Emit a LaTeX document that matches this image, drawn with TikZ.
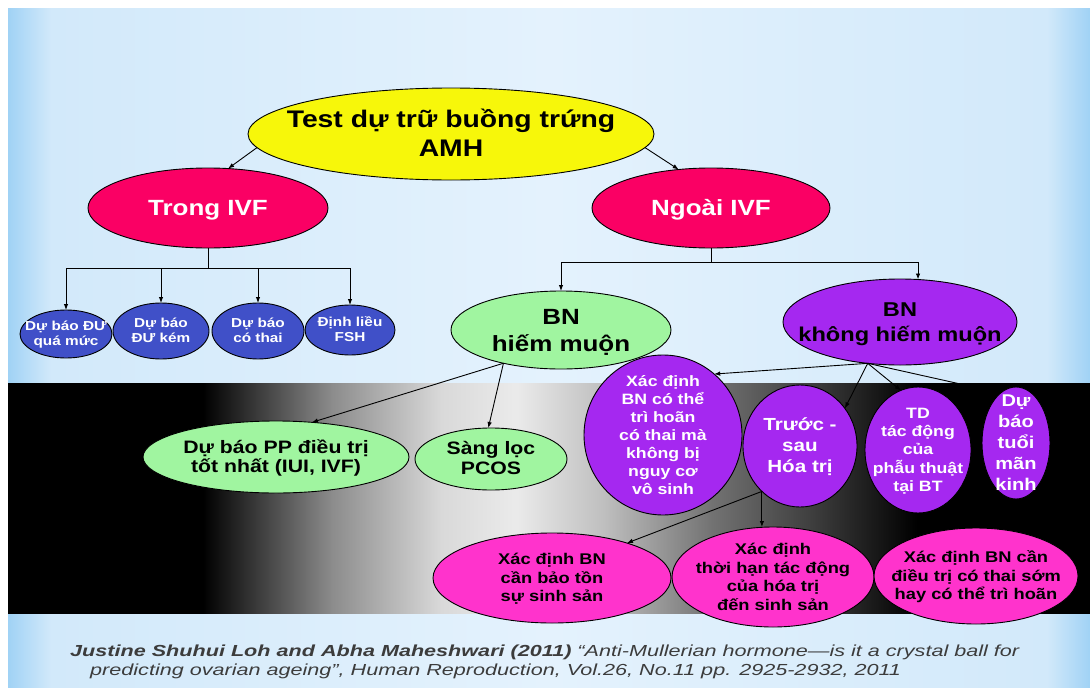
\documentclass[tikz,border=0pt]{standalone}
\usepackage{fontspec}
\setmainfont{Liberation Sans}[FakeStretch=1.18]
\newfontfamily\citefont{Liberation Sans}[FakeStretch=1.35]
\usetikzlibrary{shapes.geometric,arrows.meta,calc}
\definecolor{cyel}{RGB}{247,247,10}
\definecolor{ccrim}{RGB}{250,0,100}
\definecolor{cblue}{RGB}{64,80,200}
\definecolor{cgreen}{RGB}{160,245,160}
\definecolor{cpurp}{RGB}{165,40,240}
\definecolor{cpink}{RGB}{255,51,204}
\definecolor{bgA}{RGB}{160,210,245}
\definecolor{bgB}{RGB}{210,233,250}
\definecolor{bgC}{RGB}{228,242,253}
\definecolor{ccite}{RGB}{60,60,60}
\definecolor{gA}{gray}{0.55}
\definecolor{gB}{gray}{0.85}
\definecolor{gC}{gray}{0.92}
\definecolor{gD}{gray}{0.75}
\definecolor{gE}{gray}{0.45}
\definecolor{gF}{gray}{0.25}
\pgfdeclarehorizontalshading{bgshade}{100bp}{color(0bp)=(bgA); color(25bp)=(bgA); color(27bp)=(bgB); color(50bp)=(bgC); color(73bp)=(bgB); color(75bp)=(bgA); color(100bp)=(bgA)}
\pgfdeclarehorizontalshading{bandshade}{100bp}{color(0bp)=(black); color(34bp)=(black); color(40bp)=(gA); color(45bp)=(gB); color(48.5bp)=(gC); color(52.5bp)=(gD); color(57.5bp)=(gE); color(62bp)=(gF); color(67bp)=(black); color(100bp)=(black)}
% text box of zero size, centred on the node centre
\newcommand{\ztxt}[1]{\makebox[0pt]{\raisebox{-0.34em}[0pt][0pt]{\begin{tabular}{@{}c@{}}#1\end{tabular}}}}
\tikzset{
  ell/.style={ellipse, draw=black, line width=0.9pt, inner sep=0pt, outer sep=0pt},
  conn/.style={draw=black, line width=0.9pt},
  arr/.style={conn, -{Latex[length=6pt,width=4.5pt]}},
  whitetxt/.style={text=white},
}
\begin{document}
\begin{tikzpicture}[x=1pt,y=-1pt]
\useasboundingbox (0,0) rectangle (1090,688);
\fill[white] (0,0) rectangle (1090,688);
\shade[shading=bgshade] (8,8) rectangle (1090,688);
\shade[shading=bandshade] (8,383) rectangle (1090,613);

% nodes
\node[ell, fill=cyel, minimum width=406pt, minimum height=92pt, font=\fontsize{24pt}{29pt}\selectfont\bfseries] (amh) at (451,134) {\ztxt{Test dự trữ buồng trứng\\AMH}};
\node[ell, fill=ccrim, whitetxt, minimum width=240pt, minimum height=80pt, font=\fontsize{22pt}{26pt}\selectfont\bfseries] (trong) at (208,208) {\ztxt{Trong IVF}};
\node[ell, fill=ccrim, whitetxt, minimum width=238pt, minimum height=80pt, font=\fontsize{22pt}{26pt}\selectfont\bfseries] (ngoai) at (711,208) {\ztxt{Ngoài IVF}};

\tikzset{small/.style={ell, fill=cblue, whitetxt, font=\fontsize{13pt}{15pt}\selectfont\bfseries}}
\node[small, minimum width=92pt, minimum height=48pt] (b1) at (66,334) {\ztxt{Dự báo ĐƯ\\quá mức}};
\node[small, minimum width=96pt, minimum height=56pt] (b2) at (161,331) {\ztxt{Dự báo\\ĐƯ kém}};
\node[small, minimum width=92pt, minimum height=56pt] (b3) at (258,331) {\ztxt{Dự báo\\có thai}};
\node[small, minimum width=90pt, minimum height=50pt] (b4) at (350,330) {\ztxt{Định liều\\FSH}};

\node[ell, fill=cgreen, minimum width=220pt, minimum height=78pt, font=\fontsize{22pt}{27pt}\selectfont\bfseries] (hiem) at (561,330) {\ztxt{BN\\hiếm muộn}};
\node[ell, fill=cpurp, minimum width=234pt, minimum height=86pt, font=\fontsize{20pt}{25pt}\selectfont\bfseries] (khong) at (900,322) {\ztxt{BN\\không hiếm muộn}};

\node[ell, fill=cgreen, minimum width=266pt, minimum height=72pt, font=\fontsize{18pt}{19pt}\selectfont\bfseries] (pp) at (276,457) {\ztxt{Dự báo PP điều trị\\tốt nhất (IUI, IVF)}};
\node[ell, fill=cgreen, minimum width=152pt, minimum height=62pt, font=\fontsize{18pt}{20pt}\selectfont\bfseries] (pcos) at (491,459) {\ztxt{Sàng lọc\\PCOS}};

\node[ell, fill=cpurp, whitetxt, minimum width=158pt, minimum height=160pt, font=\fontsize{15pt}{18pt}\selectfont\bfseries] (xd1) at (663,435) {\ztxt{Xác định\\BN có thể\\trì hoãn\\có thai mà\\không bị\\nguy cơ\\vô sinh}};
\node[ell, fill=cpurp, whitetxt, minimum width=114pt, minimum height=122pt, font=\fontsize{17.5pt}{21pt}\selectfont\bfseries] (ts) at (800,446) {\ztxt{Trước -\\sau\\Hóa trị}};
\node[ell, fill=cpurp, whitetxt, minimum width=106pt, minimum height=126pt, font=\fontsize{15pt}{18pt}\selectfont\bfseries] (td) at (918,450) {\ztxt{TD\\tác động\\của\\phẫu thuật\\tại BT}};
\node[ell, fill=cpurp, whitetxt, minimum width=68pt, minimum height=112pt, font=\fontsize{17pt}{21pt}\selectfont\bfseries] (tuoi) at (1016,443) {\ztxt{Dự\\báo\\tuổi\\mãn\\kinh}};

\tikzset{pinkn/.style={ell, fill=cpink, font=\fontsize{15.5pt}{18.5pt}\selectfont\bfseries}}
\node[pinkn, minimum width=238pt, minimum height=90pt] (p1) at (552,578) {\ztxt{Xác định BN\\cần bảo tồn\\sự sinh sản}};
\node[pinkn, minimum width=202pt, minimum height=100pt] (p2) at (773,577) {\ztxt{Xác định\\thời hạn tác động\\của hóa trị\\đến sinh sản}};
\node[pinkn, minimum width=204pt, minimum height=96pt] (p3) at (976,576) {\ztxt{Xác định BN cần\\điều trị có thai sớm\\hay có thể trì hoãn}};

% connectors
\draw[arr] (amh.184) -- (trong.63);
\draw[arr] (amh.-4) -- (ngoai.130);
\draw[conn] (trong.south) -- ++(0,20) coordinate (tj);
\foreach \n in {b1,b2,b3,b4} \draw[arr] (tj) -| (\n.north);
\draw[conn] (ngoai.south) -- ++(0,14) coordinate (nj);
\draw[arr] (nj) -| (hiem.north);
\draw[arr] (nj) -| (khong.67);
\draw[arr] (hiem.210) -- (pp.44);
\draw[arr] (hiem.210) -- (pcos.95);
\draw[arr] (khong.232) -- (xd1.50);
\draw[arr] (khong.232) -- (ts.40);
\draw[arr] (khong.232) -- (td.106);
\draw[arr] (khong.232) -- (tuoi.107);
\draw[arr] (ts.230) -- (p1.25);
\draw[arr] (ts.230) -- (ts.230 |- p2.north);

% citation
\node[anchor=base west, inner sep=0pt, text=ccite, font=\citefont\fontsize{16pt}{19pt}\selectfont\itshape] (cite1) at (70,656) {\bfseries Justine Shuhui Loh and Abha Maheshwari (2011)\mdseries{} “Anti-Mullerian hormone—is it a crystal ball for};
\node[anchor=base west, inner sep=0pt, text=ccite, font=\citefont\fontsize{16pt}{19pt}\selectfont\itshape] (cite2) at (90,675) {predicting ovarian ageing”, Human Reproduction, Vol.26, No.11 pp. 2925-2932, 2011};
\end{tikzpicture}
\end{document}
